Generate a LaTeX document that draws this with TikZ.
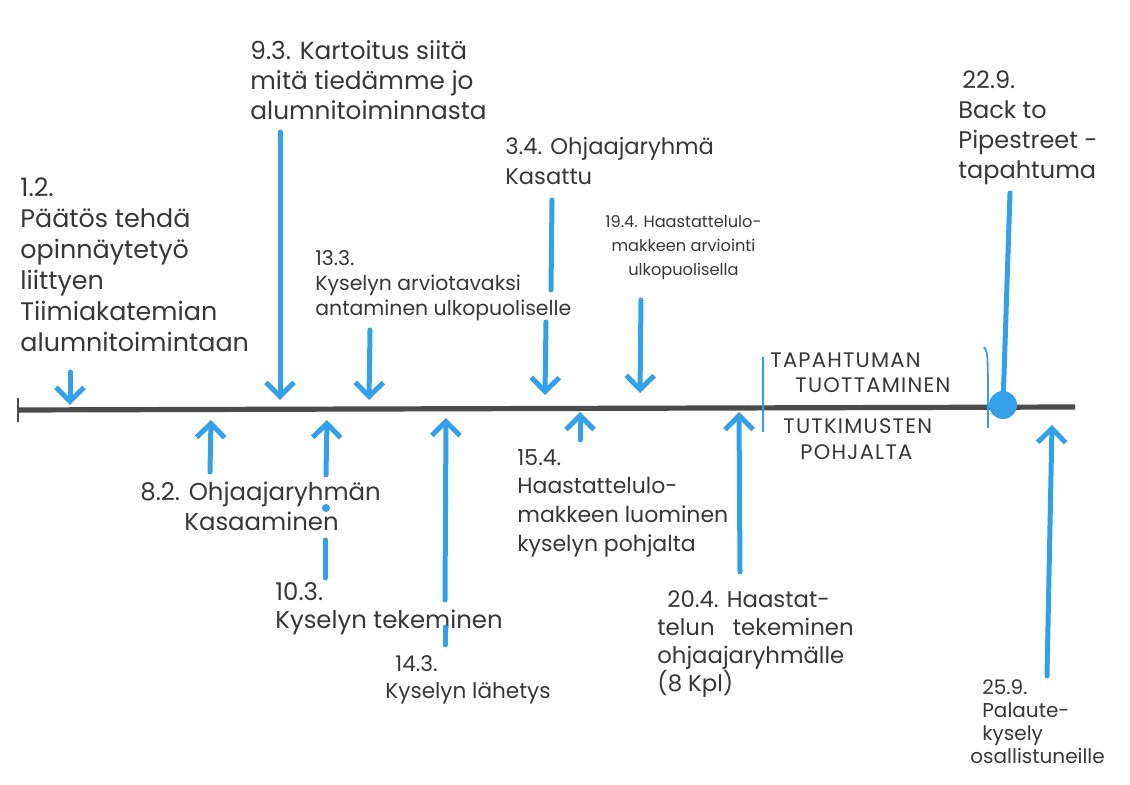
\documentclass[tikz,border=0pt]{standalone}
\usepackage{fontspec}
\setmainfont{Poppins}
\usetikzlibrary{arrows.meta}
\definecolor{pen}{RGB}{55,55,55}
\definecolor{mk}{RGB}{52,160,232}
\definecolor{axisc}{RGB}{75,75,75}
\begin{document}
\begin{tikzpicture}[x=0.5pt,y=-0.5pt,
  lbl/.style={anchor=north west, inner sep=0pt, align=left, text=pen},
  seccap/.style={anchor=north west, inner sep=0pt, text=pen, font=\fontsize{10.5}{12}\selectfont\addfontfeatures{LetterSpace=6}},
  arr/.style={mk, line width=2.5pt, line cap=round, -{Straight Barb[length=7pt,width=14pt]}},
  seg/.style={mk, line width=2.5pt, line cap=round},
  sepline/.style={mk, line width=0.9pt},
]
\useasboundingbox[fill=white] (0,0) rectangle (1130,785);

% axis
\coordinate (axL) at (18,410);
\coordinate (axR) at (1075,407);
\coordinate (tkT) at (18,398);
\coordinate (tkB) at (18,422);
\draw[axisc, line width=2.6pt] (axL) -- (axR);
\draw[axisc, line width=1.2pt] (tkT) -- (tkB);

% ---- labels above
\node[lbl, font=\fontsize{12.7}{15.5}\selectfont] (t12) at (20,177)
  {1.2.\\ Päätös tehdä\\opinnäytetyö\\liittyen\\Tiimiakatemian\\alumnitoimintaan};
\node[lbl, font=\fontsize{12.4}{15}\selectfont] (t93) at (250,40)
  {9.3. Kartoitus siitä\\mitä tiedämme jo\\alumnitoiminnasta};
\node[lbl, font=\fontsize{10.2}{12.5}\selectfont] (t133) at (315,250)
  {13.3.\\Kyselyn arviotavaksi\\antaminen ulkopuoliselle};
\node[lbl, font=\fontsize{11.3}{15}\selectfont] (t34) at (505,137)
  {3.4. Ohjaajaryhmä\\Kasattu};
\node[lbl, font=\fontsize{8.1}{12}\selectfont, align=center] (t194) at (605,215)
  {19.4. Haastattelulo-\\makkeen arviointi\\ulkopuolisella};
\node[lbl, font=\fontsize{12}{15}\selectfont] (t229) at (958,70)
  {\,22.9.\\Back to\\Pipestreet -\\tapahtuma};

% ---- section captions
\node[seccap] (c1) at (770,352) {TAPAHTUMAN};
\node[seccap] (c2) at (795,377) {TUOTTAMINEN};
\node[seccap] (c3) at (783,418) {TUTKIMUSTEN};
\node[seccap] (c4) at (800,444) {POHJALTA};

% ---- labels below
\node[lbl, font=\fontsize{12.2}{15}\selectfont] (t82) at (140,482)
  {8.2. Ohjaajaryhmän\\\hspace*{22pt}Kasaaminen};
\node[lbl, font=\fontsize{12.2}{14}\selectfont] (t103) at (275,582)
  {10.3.\\Kyselyn tekeminen};
\node[lbl, font=\fontsize{10.8}{13.5}\selectfont] (t143) at (385,655)
  {\hspace*{5pt}14.3.\\Kyselyn lähetys};
\node[lbl, font=\fontsize{11}{14.3}\selectfont] (t154) at (517,449)
  {15.4.\\Haastattelulo-\\makkeen luominen\\kyselyn pohjalta};
\node[lbl, font=\fontsize{11.4}{14}\selectfont] (t204) at (657,590)
  {\hspace*{5pt}20.4. Haastat-\\telun\ \ \ tekeminen\\ohjaajaryhmälle\\(8 Kpl)};
\node[lbl, font=\fontsize{10}{11.5}\selectfont] (t259) at (970,679)
  {\hspace*{6pt}25.9.\\\hspace*{6pt}Palaute-\\\hspace*{6pt}kysely\\osallistuneille};

% ---- coordinates of connectors
\coordinate (a1s) at (70,372);   \coordinate (a1e) at (70,405);
\coordinate (a2s) at (280,132);  \coordinate (a2e) at (280,400);
\coordinate (a3s) at (370,330);  \coordinate (a3e) at (369,400);
\coordinate (a4s) at (552,200);  \coordinate (a4m) at (551,290);
\coordinate (a4n) at (546,322);  \coordinate (a4e) at (545,395);
\coordinate (a5s) at (641,300);  \coordinate (a5e) at (640,393);
\coordinate (a6s) at (1010,193);
\coordinate (a7s) at (210,472);  \coordinate (a7e) at (211,420);
\coordinate (a8s) at (326,475);  \coordinate (a8e) at (327,420);
\coordinate (a8p) at (326,508);
\coordinate (a8m) at (325,540);  \coordinate (a8n) at (325,578);
\coordinate (a9s) at (445,600);  \coordinate (a9e) at (446,418);
\coordinate (a9m) at (445,627);  \coordinate (a9n) at (445,645);
\coordinate (a10s) at (580,440); \coordinate (a10e) at (580,412);
\coordinate (a11s) at (740,572); \coordinate (a11e) at (739,412);
\coordinate (a12s) at (1047,676);\coordinate (a12e) at (1052,425);
\coordinate (s1a) at (763,357);  \coordinate (s1b) at (763,432);
\coordinate (s2a) at (984,347);  \coordinate (s2b) at (988,428);

% ---- arrows down
\draw[arr] (a1s) -- (a1e);
\draw[arr] (a2s) -- (a2e);
\draw[arr] (a3s) -- (a3e);
\draw[seg] (a4s) -- (a4m);
\draw[arr] (a4n) -- (a4e);
\draw[arr] (a5s) -- (a5e);

% ---- event 22.9.
\node[circle, fill=mk, minimum size=14pt, inner sep=0pt] (dot) at (1003,405) {};
\draw[seg] (a6s) -- (dot.center);

% ---- arrows up
\draw[arr] (a7s) -- (a7e);
\draw[arr] (a8s) -- (a8e);
\node[circle, fill=mk, minimum size=4pt, inner sep=0pt] (p8) at (a8p) {};
\draw[seg] (a8m) -- (a8n);
\draw[arr] (a9s) -- (a9e);
\draw[seg] (a9m) -- (a9n);
\draw[arr] (a10s) -- (a10e);
\draw[arr] (a11s) -- (a11e);
\draw[arr] (a12s) -- (a12e);

% ---- separators
\draw[sepline] (s1a) -- (s1b);
\draw[sepline] (s2a) .. controls (988,352) .. (s2b);
\end{tikzpicture}
\end{document}
